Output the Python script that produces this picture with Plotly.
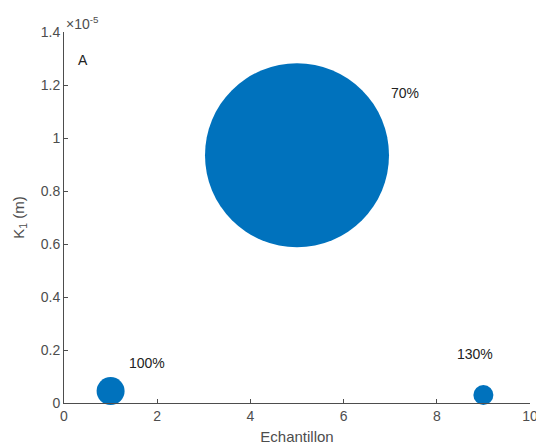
import plotly.graph_objects as go

# Data
echantillon = [1, 5, 9]
k1_values = [0.045e-5, 0.935e-5, 0.03e-5]
bubble_sizes = [28, 184, 20]
labels = ["100%", "70%", "130%"]
label_x = [1.35, 6.97, 8.4]
label_y = [0.15e-5, 1.17e-5, 0.185e-5]

x_ticks = [0, 2, 4, 6, 8, 10]
y_tick_vals = [0, 0.2e-5, 0.4e-5, 0.6e-5, 0.8e-5, 1.0e-5, 1.2e-5, 1.4e-5]
y_tick_text = ["0", "0.2", "0.4", "0.6", "0.8", "1", "1.2", "1.4"]

font_family = "Liberation Sans, Arial, sans-serif"
axis_color = "#4d4d4d"

fig = go.Figure()
fig.add_trace(go.Scatter(
    x=echantillon, y=k1_values, mode="markers",
    marker=dict(size=bubble_sizes, sizemode="diameter", color="#0072BD",
                opacity=1, line=dict(width=0)),
    cliponaxis=False, showlegend=False,
))

for tx, ty, t in zip(label_x, label_y, labels):
    fig.add_annotation(x=tx, y=ty, text=t, showarrow=False, xanchor="left",
                       yanchor="middle", font=dict(size=14, color="#222222",
                                                   family=font_family))

fig.add_annotation(xref="paper", yref="paper", x=0.025, y=0.925, text="A",
                   showarrow=False, xanchor="left", yanchor="middle",
                   font=dict(size=14, color="#222222", family=font_family))
fig.add_annotation(xref="paper", yref="paper", x=0.0, y=1.0, yshift=-2,
                   text="×10<sup>-5</sup>",
                   showarrow=False, xanchor="left", yanchor="bottom",
                   font=dict(size=14, color=axis_color, family=font_family))

fig.update_layout(
    width=536, height=438,
    margin=dict(l=56, r=14, t=24, b=43),
    paper_bgcolor="white", plot_bgcolor="white",
    font=dict(family=font_family, color=axis_color, size=13),
    xaxis=dict(range=[0, 10], tickvals=x_ticks, ticks="inside", ticklen=4,
               tickcolor=axis_color, showline=True, linecolor=axis_color,
               linewidth=1, showgrid=False, zeroline=False, mirror=False,
               automargin=False,
               title=dict(text="Echantillon", standoff=8,
                          font=dict(size=15, color=axis_color)),
               tickfont=dict(size=14, color=axis_color)),
    yaxis=dict(range=[0, 1.4e-5], tickvals=y_tick_vals, ticktext=y_tick_text,
               ticks="inside", ticklen=4, tickcolor=axis_color, showline=True,
               linecolor=axis_color, linewidth=1, showgrid=False,
               zeroline=False, mirror=False, automargin=False,
               title=dict(text="K<sub>1</sub> (m)", standoff=12,
                          font=dict(size=15, color=axis_color)),
               tickfont=dict(size=14, color=axis_color)),
)

fig.write_html("out.html")
